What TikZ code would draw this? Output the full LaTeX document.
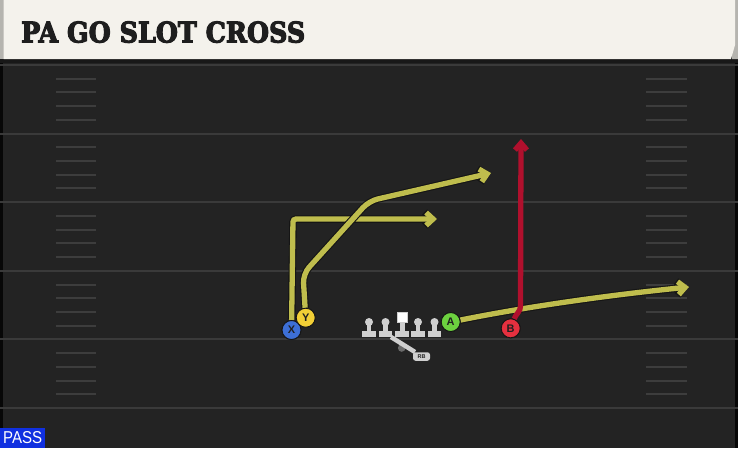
\documentclass[tikz,border=0pt]{standalone}
\usepackage{fontspec}
\usepackage{graphicx}
\setmainfont{Liberation Sans}
\newfontfamily\titlefont{DejaVu Serif}[BoldFeatures={FakeBold=4}]
\usetikzlibrary{arrows.meta}
\definecolor{field}{HTML}{232323}
\definecolor{yardc}{HTML}{3A3A3A}
\definecolor{hashc}{HTML}{3D3D3D}
\definecolor{cream}{HTML}{F4F2EC}
\definecolor{edgegrey}{HTML}{B5B4AF}
\definecolor{titlec}{HTML}{1E1E1E}
\definecolor{shadowc}{HTML}{181818}
\definecolor{outl}{HTML}{151515}
\definecolor{xblue}{HTML}{3D6FD6}
\definecolor{yyellow}{HTML}{F2CF36}
\definecolor{agreen}{HTML}{6CD13F}
\definecolor{bred}{HTML}{E5303F}
\definecolor{routey}{HTML}{BFBD4D}
\definecolor{router}{HTML}{B0102D}
\definecolor{olgrey}{HTML}{CFCFCF}
\definecolor{rbdot}{HTML}{6A6A6A}
\definecolor{passblue}{HTML}{1030E0}
\definecolor{labeltext}{HTML}{202020}
\tikzset{
  yard/.style={draw=yardc, line width=2pt},
  hash/.style={draw=hashc, line width=2pt},
  player/.style={circle, draw=outl, line width=0.9pt, minimum size=19pt, inner sep=0pt,
    font=\bfseries\fontsize{11}{11}\selectfont, text=labeltext},
  routeout/.style={draw=outl, line width=7.5pt, -{Straight Barb[length=7pt,width=14pt]}},
  routein/.style={draw=routey, line width=5.3pt, -{Straight Barb[length=7pt,width=13pt]}},
  route/.style={routein, preaction={routeout}},
  routered/.style={draw=router, line width=5.3pt, -{Straight Barb[length=7pt,width=12pt]}},
  lineman/.pic={
    \fill[olgrey] (0,0) circle (4);
    \fill[olgrey] (-2.3,0) rectangle (2.3,10);
    \fill[olgrey] (-6.8,9) rectangle (6.8,15);
  },
}
\begin{document}
\begin{tikzpicture}[x=1pt,y=-1pt]
\useasboundingbox (0,0) rectangle (738,448);
\fill[field] (0,0) rectangle (738,448);
\fill[black!80!field] (0,59) rectangle (3,448);
\fill[black!80!field] (735,59) rectangle (738,448);
% yard lines and hashes
\foreach \k in {0,...,5} {
  \draw[yard] (0,{65+68.6*\k}) -- (738,{65+68.6*\k});
}
\foreach \k in {0,...,4} {
  \foreach \j in {1,...,4} {
    \draw[hash] (56,{65+68.6*\k+13.72*\j}) -- (96,{65+68.6*\k+13.72*\j});
    \draw[hash] (646,{65+68.6*\k+13.72*\j}) -- (687,{65+68.6*\k+13.72*\j});
  }
}
% header
\fill[shadowc] (0,59) rectangle (738,63);
\fill[edgegrey] (0,0) rectangle (3.5,59);
\fill[edgegrey] (734,0) -- (738,0) -- (738,59) -- (732,59) -- cycle;
\fill[cream] (3.5,0) -- (735,0) -- (735,45) -- (731,59) -- (3.5,59) -- cycle;
\node[anchor=south west, inner sep=0pt, text=titlec] (title) at (21,43)
  {\resizebox{284pt}{21pt}{\titlefont\bfseries PA GO SLOT CROSS}};
% pass badge
\node[anchor=south west, fill=passblue, minimum width=45pt, minimum height=20pt, inner sep=0pt,
  text=white] (pass) at (0,448) {\resizebox{39pt}{12pt}{PASS}};
% line
\pic at (369,322) {lineman};
\pic at (385.5,322) {lineman};
\pic at (418,322) {lineman};
\pic at (434.5,322) {lineman};
\fill[olgrey] (400,318) rectangle (404.6,332);
\fill[olgrey] (395.4,331) rectangle (409,337);
\node[draw=olgrey, fill=white, line width=0.6pt, minimum size=9.5pt, inner sep=0pt] (C) at (402.2,317.5) {};
% RB
\fill[rbdot] (401.7,348) circle (3.8);
\draw[olgrey, line width=4.5pt] (391,337) -- (415,352);
\node[fill=olgrey, rounded corners=2.5pt, minimum width=17pt, minimum height=8.5pt, inner sep=0pt,
  font=\bfseries\fontsize{5.5}{5.5}\selectfont, text=labeltext] (RB) at (421.5,356.5) {RB};
% players
\node[player, fill=xblue] (X) at (291.5,330) {X};
\node[player, fill=yyellow] (Y) at (305.7,317.7) {Y};
\node[player, fill=agreen] (A) at (450.7,322) {A};
\node[player, fill=bred] (B) at (510.7,328.3) {B};
% route ends
\coordinate (xe) at (437,219);
\coordinate (ye) at (491,173);
\coordinate (ae) at (689,287);
\coordinate (be) at (521,139);
% routes
\draw[route, rounded corners=3pt] (X) -- (293,219) -- (xe);
\draw[route, rounded corners=9pt] (Y) -- (303,274) -- (369,201) -- (ye);
\draw[route] (A) .. controls (520,308) and (600,296) .. (ae);
\draw[routered] (B) to[out=70,in=-90] (520.5,306) -- (be);
% redraw players on top
\node[player, fill=xblue] at (X) {X};
\node[player, fill=yyellow] at (Y) {Y};
\node[player, fill=agreen] at (A) {A};
\node[player, fill=bred] at (B) {B};
\end{tikzpicture}
\end{document}
